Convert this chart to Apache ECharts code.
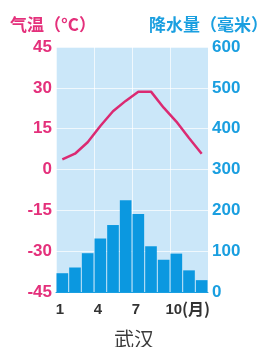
<!DOCTYPE html>
<html>
  <head>
    <meta charset="utf-8">
    <title>武汉气候</title>
    <style>
      html, body { margin: 0; padding: 0; background: #fff; }
    </style>
  </head>
  <body>
    <div id="main" style="width: 277px;height:347px;"></div>

  <script src="https://cdn.jsdelivr.net/npm/echarts@6/dist/echarts.min.js" charset="utf-8"></script>
  <script type="text/javascript">
  var months = ['1', '2', '3', '4', '5', '6', '7', '8', '9', '10', '11', '12'];
  // 气温 (°C)
  var temperature = [3.7, 5.8, 10, 16, 21.4, 25.2, 28.6, 28.6, 22.7, 17.6, 11.6, 5.8];
  // 降水量 (毫米)
  var precipitation = [46, 60, 95, 131, 164, 225, 191, 112, 79, 94, 53, 29];
  var tempTicks = [-45, 45, 15];
  var rainTicks = [0, 600, 100];

  var pink = '#e4307b';
  var blue = '#1a9fe0';

  var myChart = echarts.init(document.getElementById('main'));

  var option = {
    backgroundColor: '#fff',
    animation: false,
    title: [
      {
        text: '气温（°C）',
        left: 5, top: 11,
        textStyle: { color: pink, fontSize: 17, fontWeight: 'bold',
          fontFamily: 'Noto Sans CJK SC', lineHeight: 18 }
      },
      {
        text: '降水量（毫米）',
        left: 144, top: 11,
        textStyle: { color: blue, fontSize: 17, fontWeight: 'bold',
          fontFamily: 'Noto Sans CJK SC', lineHeight: 18 }
      },
      {
        text: '武汉',
        left: 109, top: 324,
        textStyle: { color: '#3a3a3a', fontSize: 20, fontWeight: 'normal',
          fontFamily: 'Noto Sans CJK SC', lineHeight: 20 }
      }
    ],
    // 月份单位，跟在 "10" 后面
    graphic: [
      {
        type: 'text',
        left: 182, top: 301,
        style: {
          text: '(月)',
          fill: '#333',
          font: 'bold 16px "Noto Sans CJK SC"'
        }
      }
    ],
    grid: {
      left: 56, right: 69, top: 47, bottom: 55,
      show: true,
      backgroundColor: '#cbe7f9',
      borderWidth: 0
    },
    xAxis: {
      type: 'category',
      data: months,
      boundaryGap: true,
      axisTick: { show: false },
      axisLine: { show: true, onZero: false, lineStyle: { color: '#1a9fe0', width: 1 } },
      splitLine: { show: true, lineStyle: { color: 'rgba(255,255,255,0.7)', width: 1 } },
      axisLabel: {
        interval: function (i) { return i % 3 === 0; },
        margin: 10,
        color: '#333',
        fontSize: 15,
        fontWeight: 'bold',
        fontFamily: 'Liberation Sans',
        padding: [0, 5, 0, 0]
      }
    },
    yAxis: [
      {
        type: 'value',
        min: tempTicks[0], max: tempTicks[1], interval: tempTicks[2],
        axisLine: { show: false },
        axisTick: { show: false },
        splitLine: { show: true, lineStyle: { color: 'rgba(255,255,255,0.7)', width: 1 } },
        axisLabel: {
          margin: 4,
          color: pink,
          fontSize: 17,
          fontWeight: 'bold',
          fontFamily: 'Liberation Sans'
        }
      },
      {
        type: 'value',
        position: 'right',
        min: rainTicks[0], max: rainTicks[1], interval: rainTicks[2],
        axisLine: { show: false },
        axisTick: { show: false },
        splitLine: { show: false },
        axisLabel: {
          margin: 4,
          color: blue,
          fontSize: 17,
          fontWeight: 'bold',
          fontFamily: 'Liberation Sans'
        }
      }
    ],
    series: [
      {
        name: '降水量',
        type: 'bar',
        yAxisIndex: 1,
        data: precipitation,
        barCategoryGap: '8%',
        itemStyle: { color: '#0b98e0' },
        z: 2
      },
      {
        name: '气温',
        type: 'line',
        yAxisIndex: 0,
        data: temperature,
        symbol: 'none',
        lineStyle: { color: '#db2a72', width: 2.5 },
        z: 3
      }
    ]
  };
  myChart.setOption(option);
  </script>
  </body>
</html>
